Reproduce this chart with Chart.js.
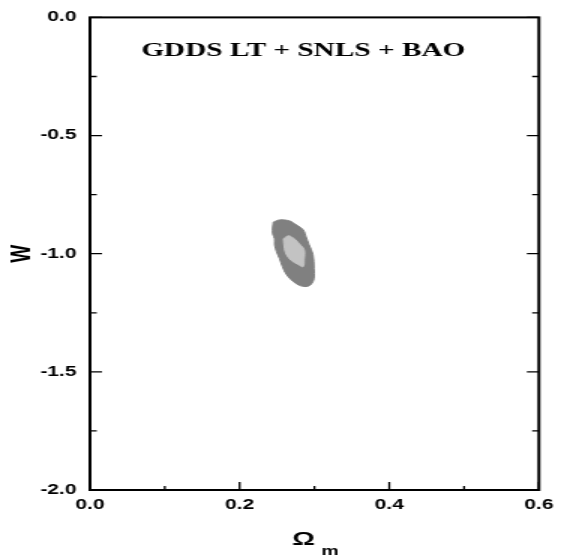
<!DOCTYPE html>
<html>
<head>
<meta charset="utf-8">
<script src="https://cdn.jsdelivr.net/npm/chart.js@4.4.0/dist/chart.umd.min.js"></script>
<style>
    html, body { margin: 0; padding: 0; background: #fff; }
</style>
</head>
<body>
<!-- the reference is stretched sideways, so the canvas is drawn narrow and shown wide -->
<canvas id="grafico" width="376" height="556" style="display:block;width:564px;height:556px;"></canvas>
<script>
// Contorno externo (cinza escuro)
const outerOmega = [0.2451, 0.2534, 0.2665, 0.2757, 0.2849, 0.2888, 0.2928, 0.2980, 0.2994, 0.2994,
                    0.2954, 0.2888, 0.2797, 0.2718, 0.2626, 0.2573, 0.2534, 0.2494, 0.2468, 0.2468,
                    0.2442, 0.2442, 0.2451];
const outerW = [-0.866, -0.857, -0.861, -0.878, -0.899, -0.929, -0.962, -1.004, -1.063, -1.105,
                -1.130, -1.139, -1.134, -1.118, -1.088, -1.055, -1.021, -0.992, -0.962, -0.937,
                -0.916, -0.887, -0.866];

// Contorno interno (cinza claro)
const innerOmega = [0.2586, 0.2652, 0.2731, 0.2797, 0.2862, 0.2862, 0.2849, 0.2783, 0.2691, 0.2626, 0.2600, 0.2586];
const innerW = [-0.937, -0.924, -0.937, -0.958, -0.983, -1.025, -1.055, -1.046, -1.029, -1.004, -0.979, -0.937];

// Marcas dos eixos
const xMajorTicks = [0.0, 0.2, 0.4, 0.6];
const xMinorTicks = [0.1, 0.3, 0.5];
const yMajorTicks = [0.0, -0.5, -1.0, -1.5, -2.0];
const yMinorTicks = [-0.25, -0.75, -1.25, -1.75];

const titleText = 'GDDS LT + SNLS + BAO';

const toPoints = (xs, ys) => xs.map((v, i) => ({ x: v, y: ys[i] }));

// Moldura, marcas internas, título e rótulo do eixo x
const framePlugin = {
    id: 'frame',
    afterDraw(chart) {
        const ctx = chart.ctx;
        const a = chart.chartArea;
        const sx = chart.scales.x;
        const sy = chart.scales.y;
        ctx.save();
        ctx.strokeStyle = '#000';
        ctx.lineWidth = 2;
        ctx.strokeRect(a.left, a.top, a.right - a.left, a.bottom - a.top);

        ctx.lineWidth = 1.3;
        ctx.beginPath();
        xMajorTicks.forEach(v => { const p = sx.getPixelForValue(v); ctx.moveTo(p, a.bottom); ctx.lineTo(p, a.bottom - 8); });
        xMinorTicks.forEach(v => { const p = sx.getPixelForValue(v); ctx.moveTo(p, a.bottom); ctx.lineTo(p, a.bottom - 4); });
        yMajorTicks.forEach(v => {
            const p = sy.getPixelForValue(v);
            ctx.moveTo(a.left, p); ctx.lineTo(a.left + 8, p);
            ctx.moveTo(a.right, p); ctx.lineTo(a.right - 8, p);
        });
        yMinorTicks.forEach(v => {
            const p = sy.getPixelForValue(v);
            ctx.moveTo(a.left, p); ctx.lineTo(a.left + 4.5, p);
            ctx.moveTo(a.right, p); ctx.lineTo(a.right - 4.5, p);
        });
        ctx.stroke();

        // título dentro do gráfico
        ctx.fillStyle = '#000';
        ctx.font = 'bold 19.5px "Liberation Serif", "Times New Roman", serif';
        ctx.textAlign = 'center';
        ctx.textBaseline = 'alphabetic';
        ctx.fillText(titleText, sx.getPixelForValue(0.285), sy.getPixelForValue(-0.164));

        // Ω com subscrito m
        const cx = (a.left + a.right) / 2;
        ctx.textAlign = 'left';
        ctx.font = 'bold 19px "Liberation Sans", Arial, sans-serif';
        ctx.fillText('Ω', cx - 15, 545);
        ctx.font = 'bold 13px "Liberation Sans", Arial, sans-serif';
        ctx.fillText('m', cx + 4.5, 555);
        ctx.restore();
    }
};

const tickFont = { family: '"Liberation Sans", Arial, sans-serif', size: 14, weight: 'bold' };

new Chart(document.getElementById('grafico'), {
    type: 'scatter',
    data: {
        datasets: [
            {
                label: 'externo',
                data: toPoints(outerOmega, outerW),
                showLine: true,
                fill: 'shape',
                tension: 0.35,
                order: 2,
                backgroundColor: '#808080',
                borderColor: '#808080',
                borderWidth: 1,
                pointRadius: 0
            },
            {
                label: 'interno',
                data: toPoints(innerOmega, innerW),
                showLine: true,
                fill: 'shape',
                tension: 0.35,
                order: 1,
                backgroundColor: '#c3c3c3',
                borderColor: '#c3c3c3',
                borderWidth: 1,
                pointRadius: 0
            }
        ]
    },
    options: {
        responsive: false,
        animation: false,
        devicePixelRatio: 1,
        layout: { padding: { top: 14, right: 11, left: 0, bottom: 0 } },
        plugins: {
            legend: { display: false },
            tooltip: { enabled: false }
        },
        scales: {
            x: {
                type: 'linear',
                min: 0,
                max: 0.6,
                grid: { display: false, drawTicks: false },
                border: { display: false },
                ticks: {
                    stepSize: 0.2,
                    padding: 7,
                    color: '#000',
                    font: tickFont,
                    maxRotation: 0,
                    callback: v => v.toFixed(1)
                },
                afterFit: scale => { scale.height = 66; }
            },
            y: {
                type: 'linear',
                min: -2,
                max: 0,
                grid: { display: false, drawTicks: false },
                border: { display: false },
                ticks: {
                    stepSize: 0.5,
                    padding: 9,
                    color: '#000',
                    font: tickFont,
                    callback: v => v.toFixed(1)
                },
                title: {
                    display: true,
                    text: 'W',
                    color: '#000',
                    font: { family: '"Liberation Sans", Arial, sans-serif', size: 19, weight: 'bold' },
                    padding: { top: 3, bottom: 0 }
                },
                afterFit: scale => { scale.width = 60; }
            }
        }
    },
    plugins: [framePlugin]
});
</script>
</body>
</html>
